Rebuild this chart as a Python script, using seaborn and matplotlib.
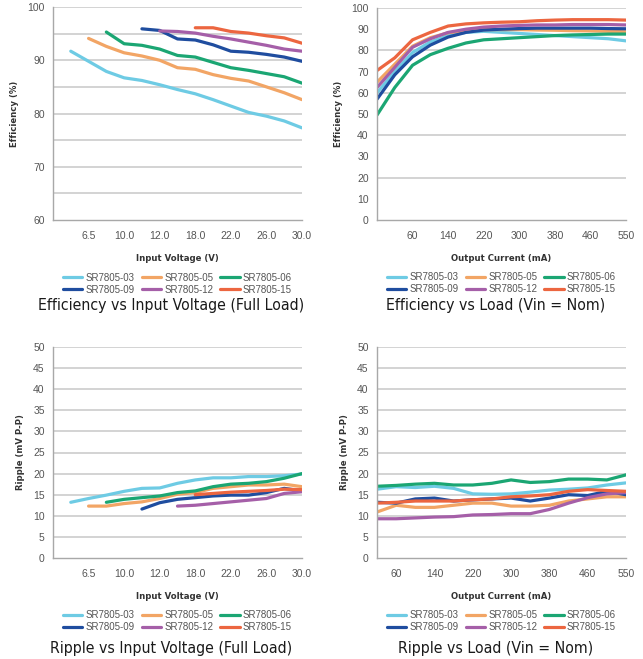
import numpy as np
import pandas as pd
import seaborn as sns
import matplotlib.pyplot as plt
from matplotlib.lines import Line2D

nan = np.nan

series_names = ["SR7805-03", "SR7805-05", "SR7805-06", "SR7805-09", "SR7805-12", "SR7805-15"]
series_colors = ["#6ECBE4", "#F2A565", "#1BA673", "#1F4D9F", "#A55FA8", "#EC6640"]

# x tick labels (only every other category is labelled in the original)
vin_ticks = ["", "6.5", "", "10.0", "", "12.0", "", "18.0", "", "22.0", "", "26.0", "", "30.0"]
load_ticks_eff = ["", "", "60", "", "140", "", "220", "", "300", "", "380", "", "460", "", "550"]
load_ticks_rip = ["", "60", "", "140", "", "220", "", "300", "", "380", "", "460", "", "550"]

# Efficiency vs input voltage (full load)
eff_vin_03 = [91.7, 89.8, 87.9, 86.7, 86.2, 85.4, 84.5, 83.7, 82.6, 81.4, 80.2, 79.5, 78.6, 77.3]
eff_vin_05 = [nan, 94.1, 92.6, 91.4, 90.8, 90.0, 88.6, 88.3, 87.3, 86.6, 86.1, 85.0, 83.9, 82.6]
eff_vin_06 = [nan, nan, 95.3, 93.1, 92.8, 92.1, 90.9, 90.6, 89.6, 88.6, 88.1, 87.5, 86.9, 85.7]
eff_vin_09 = [nan, nan, nan, nan, 95.9, 95.6, 94.0, 93.8, 92.9, 91.7, 91.5, 91.1, 90.6, 89.8]
eff_vin_12 = [nan, nan, nan, nan, nan, 95.5, 95.4, 95.1, 94.5, 94.0, 93.4, 92.8, 92.1, 91.7]
eff_vin_15 = [nan, nan, nan, nan, nan, nan, nan, 96.1, 96.1, 95.4, 95.1, 94.6, 94.2, 93.2]

# Efficiency vs load (Vin = nom)
eff_load_03 = [60.0, 70.0, 79.0, 84.0, 87.0, 88.5, 89.0, 88.5, 88.0, 87.5, 87.0, 86.5, 86.0, 85.5, 84.5]
eff_load_05 = [65.0, 73.5, 82.0, 86.0, 88.3, 89.3, 89.8, 89.8, 89.8, 89.6, 89.5, 89.3, 89.2, 89.0, 88.8]
eff_load_06 = [49.5, 62.5, 73.0, 78.0, 81.0, 83.5, 85.0, 85.5, 86.0, 86.5, 87.0, 87.3, 87.5, 87.7, 87.7]
eff_load_09 = [57.0, 68.5, 77.0, 82.5, 86.3, 88.5, 89.6, 90.0, 90.3, 90.5, 90.5, 90.5, 90.5, 90.3, 90.2]
eff_load_12 = [62.5, 72.0, 81.5, 85.5, 88.5, 90.0, 91.0, 91.5, 91.8, 92.0, 92.0, 92.2, 92.2, 92.2, 92.0]
eff_load_15 = [70.5, 76.5, 85.0, 88.5, 91.5, 92.5, 93.0, 93.3, 93.5, 94.0, 94.3, 94.5, 94.5, 94.5, 94.3]

# Ripple vs input voltage (full load)
rip_vin_03 = [13.2, 14.1, 14.9, 15.8, 16.5, 16.6, 17.7, 18.5, 19.0, 19.0, 19.3, 19.3, 19.5, 19.9]
rip_vin_05 = [nan, 12.3, 12.3, 12.9, 13.3, 14.1, 15.1, 15.5, 16.5, 16.9, 17.3, 17.3, 17.5, 16.9]
rip_vin_06 = [nan, nan, 13.2, 13.9, 14.3, 14.7, 15.5, 15.9, 16.9, 17.5, 17.7, 18.1, 18.9, 20.0]
rip_vin_09 = [nan, nan, nan, nan, 11.6, 13.1, 13.9, 14.3, 14.7, 14.9, 14.9, 15.5, 16.5, 15.9]
rip_vin_12 = [nan, nan, nan, nan, nan, nan, 12.3, 12.5, 12.9, 13.3, 13.7, 14.1, 15.3, 15.7]
rip_vin_15 = [nan, nan, nan, nan, nan, nan, nan, 15.0, 15.3, 15.6, 15.8, 16.0, 16.3, 16.2]

# Ripple vs load (Vin = nom)
rip_load_03 = [16.3, 16.9, 16.7, 17.0, 16.5, 15.2, 15.1, 15.2, 15.6, 16.1, 16.3, 16.6, 17.3, 17.8]
rip_load_05 = [10.9, 12.5, 12.0, 12.0, 12.5, 13.0, 13.0, 12.3, 12.3, 12.5, 13.5, 14.0, 14.5, 14.5]
rip_load_06 = [17.0, 17.2, 17.5, 17.7, 17.3, 17.3, 17.7, 18.5, 17.9, 18.1, 18.7, 18.7, 18.5, 19.7]
rip_load_09 = [13.2, 13.0, 14.0, 14.2, 13.5, 13.8, 14.0, 14.2, 13.5, 14.2, 15.0, 14.8, 15.8, 15.0]
rip_load_12 = [9.3, 9.3, 9.5, 9.7, 9.8, 10.2, 10.3, 10.5, 10.5, 11.5, 13.0, 14.3, 15.2, 15.5]
rip_load_15 = [13.0, 13.2, 13.5, 13.5, 13.5, 13.8, 14.0, 14.5, 14.7, 15.0, 15.8, 16.2, 16.0, 15.8]

sns.set_style("white")
plt.rcParams["font.family"] = ["Liberation Sans", "DejaVu Sans"]

TICK_C = "#555555"
AXIS_C = "#a8a8a8"
GRID_C = "#c8c8c8"


def to_long(series_list, first_x):
    rows = []
    for name, vals in zip(series_names, series_list):
        for i, v in enumerate(vals):
            if not np.isnan(v):
                rows.append({"x": first_x + i, "value": v, "series": name})
    return pd.DataFrame(rows)


def draw_panel(rect, series_list, first_x, ticks, ylim, ystep, grid_vals,
               ylabel, xlabel, title, title_y):
    ax = fig.add_axes(rect)
    df = to_long(series_list, first_x)
    sns.lineplot(data=df, x="x", y="value", hue="series", hue_order=series_names,
                 palette=series_colors, linewidth=2.3, legend=False, ax=ax)
    for g in grid_vals:
        ax.axhline(g, color=GRID_C, lw=1.1, zorder=0)
    ax.set_xlim(0, first_x + len(ticks) - 1)
    ax.set_xticks(np.arange(first_x, first_x + len(ticks)))
    ax.set_xticklabels(ticks)
    ax.set_ylim(*ylim)
    ax.set_yticks(np.arange(ylim[0], ylim[1] + 0.1, ystep))
    for s in ["top", "right"]:
        ax.spines[s].set_visible(False)
    for s in ["left", "bottom"]:
        ax.spines[s].set_color(AXIS_C)
        ax.spines[s].set_linewidth(1.0)
    ax.tick_params(axis="x", direction="out", length=3, width=0.8, color=AXIS_C,
                   labelsize=7.5, labelcolor=TICK_C, pad=5)
    ax.tick_params(axis="y", direction="out", length=3, width=0.8, color=AXIS_C,
                   labelsize=7.5, labelcolor=TICK_C, pad=3)
    ax.set_ylabel(ylabel, fontsize=6.8, fontweight="bold", color="#333333",
                  family="DejaVu Sans", stretch="condensed", labelpad=6)
    ax.set_xlabel(xlabel, fontsize=6.8, fontweight="bold", color="#333333",
                  family="DejaVu Sans", stretch="condensed", labelpad=9)

    # legend fills row by row in the original: 03 05 06 / 09 12 15
    order = [0, 3, 1, 4, 2, 5]
    handles = [Line2D([0], [0], color=series_colors[i], lw=2.3) for i in order]
    labels = [series_names[i] for i in order]
    ax.legend(handles, labels, ncol=3, loc="upper center", bbox_to_anchor=(0.5, -0.215),
              frameon=False, fontsize=7, handlelength=2.0, handletextpad=0.3,
              columnspacing=0.75, labelspacing=0.2, borderpad=0.2, labelcolor=TICK_C)
    cx = rect[0] + rect[2] / 2 - 0.01
    fig.text(cx, title_y, title, ha="center", va="center", fontsize=11.3,
             family="DejaVu Sans", stretch="condensed", color="#1a1a1a")
    return ax


fig = plt.figure(figsize=(6.43, 6.59), dpi=100)

W, H = 643.0, 659.0


def rect_px(x0, x1, ytop, ybot):
    return [x0 / W, 1 - ybot / H, (x1 - x0) / W, (ybot - ytop) / H]


draw_panel(rect_px(53, 302, 7, 220),
           [eff_vin_03, eff_vin_05, eff_vin_06, eff_vin_09, eff_vin_12, eff_vin_15],
           1, vin_ticks, (60, 100), 10, [65, 70, 75, 80, 85, 90, 95, 100],
           "Efficiency (%)", "Input Voltage (V)",
           "Efficiency vs Input Voltage (Full Load)", 1 - 306 / H)

draw_panel(rect_px(377, 626, 8, 220),
           [eff_load_03, eff_load_05, eff_load_06, eff_load_09, eff_load_12, eff_load_15],
           0, load_ticks_eff, (0, 100), 10, [20, 40, 60, 80, 100],
           "Efficiency (%)", "Output Current (mA)",
           "Efficiency vs Load (Vin = Nom)", 1 - 306 / H)

draw_panel(rect_px(53, 302, 347, 558),
           [rip_vin_03, rip_vin_05, rip_vin_06, rip_vin_09, rip_vin_12, rip_vin_15],
           1, vin_ticks, (0, 50), 5, list(range(5, 51, 5)),
           "Ripple (mV P-P)", "Input Voltage (V)",
           "Ripple vs Input Voltage (Full Load)", 1 - 648 / H)

draw_panel(rect_px(377, 626, 347, 558),
           [rip_load_03, rip_load_05, rip_load_06, rip_load_09, rip_load_12, rip_load_15],
           0, load_ticks_rip, (0, 50), 5, list(range(5, 51, 5)),
           "Ripple (mV P-P)", "Output Current (mA)",
           "Ripple vs Load (Vin = Nom)", 1 - 648 / H)

fig.savefig("out.png", dpi=100, facecolor="white")
